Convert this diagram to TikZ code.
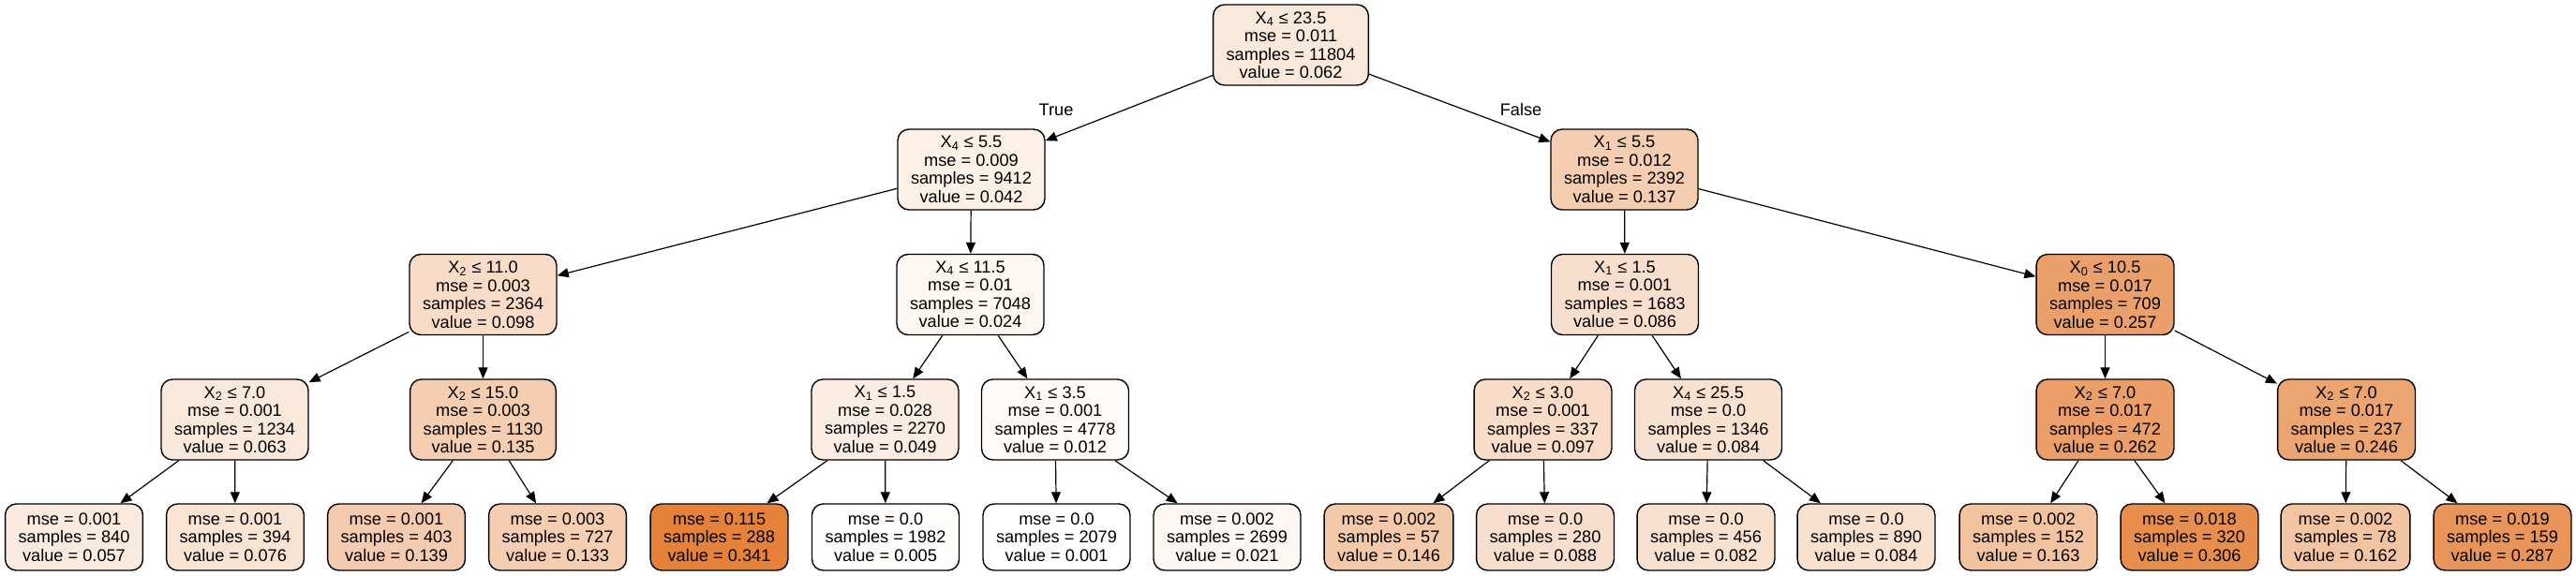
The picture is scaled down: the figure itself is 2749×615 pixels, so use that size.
\documentclass[tikz,border=0pt]{standalone}
\usepackage{fontspec}
\setmainfont{Liberation Sans}
\usetikzlibrary{arrows.meta}
\definecolor{dt}{HTML}{E58139}

\begin{document}
\begin{tikzpicture}[
    x=0.5pt, y=-0.5pt,
    split/.style={draw, line width=0.7pt, rounded corners=6pt, fill=dt!#1, align=center,
        minimum height=43pt, inner xsep=7pt, inner ysep=1pt,
        font=\fontsize{9.1}{9.75}\selectfont},
    leaf/.style={split=#1, minimum height=35.5pt},
    arrow/.style={-{Triangle[length=6pt,width=5pt]}, line width=0.6pt},
    lbl/.style={font=\fontsize{9.1}{9.75}\selectfont}
]
\useasboundingbox (0,0) rectangle (2749,615);

% Root
\node[split=18] (n0) at (1377.5,48) {X\textsubscript{4} ≤ 23.5\\mse = 0.011\\samples = 11804\\value = 0.062};

% Depth 1
\node[split=12] (n1) at (1036.5,181) {X\textsubscript{4} ≤ 5.5\\mse = 0.009\\samples = 9412\\value = 0.042};
\node[split=40] (n2) at (1733.5,181) {X\textsubscript{1} ≤ 5.5\\mse = 0.012\\samples = 2392\\value = 0.137};

% Depth 2
\node[split=28] (n3) at (515.5,314.5) {X\textsubscript{2} ≤ 11.0\\mse = 0.003\\samples = 2364\\value = 0.098};
\node[split=7] (n4) at (1035.5,314.5) {X\textsubscript{4} ≤ 11.5\\mse = 0.01\\samples = 7048\\value = 0.024};
\node[split=25] (n5) at (1734,314.5) {X\textsubscript{1} ≤ 1.5\\mse = 0.001\\samples = 1683\\value = 0.086};
\node[split=75] (n6) at (2246.5,314.5) {X\textsubscript{0} ≤ 10.5\\mse = 0.017\\samples = 709\\value = 0.257};

% Depth 3
\node[split=18] (n7) at (250.5,448) {X\textsubscript{2} ≤ 7.0\\mse = 0.001\\samples = 1234\\value = 0.063};
\node[split=39] (n8) at (515.5,448) {X\textsubscript{2} ≤ 15.0\\mse = 0.003\\samples = 1130\\value = 0.135};
\node[split=14] (n9) at (944.5,448) {X\textsubscript{1} ≤ 1.5\\mse = 0.028\\samples = 2270\\value = 0.049};
\node[split=3] (n10) at (1126,448) {X\textsubscript{1} ≤ 3.5\\mse = 0.001\\samples = 4778\\value = 0.012};
\node[split=28] (n11) at (1646.5,448) {X\textsubscript{2} ≤ 3.0\\mse = 0.001\\samples = 337\\value = 0.097};
\node[split=24] (n12) at (1823,448) {X\textsubscript{4} ≤ 25.5\\mse = 0.0\\samples = 1346\\value = 0.084};
\node[split=77] (n13) at (2246.5,448) {X\textsubscript{2} ≤ 7.0\\mse = 0.017\\samples = 472\\value = 0.262};
\node[split=72] (n14) at (2504,448) {X\textsubscript{2} ≤ 7.0\\mse = 0.017\\samples = 237\\value = 0.246};

% Leaves
\node[leaf=16] (l1) at (79,573.5) {mse = 0.001\\samples = 840\\value = 0.057};
\node[leaf=22] (l2) at (251,573.5) {mse = 0.001\\samples = 394\\value = 0.076};
\node[leaf=41] (l3) at (423,573.5) {mse = 0.001\\samples = 403\\value = 0.139};
\node[leaf=39] (l4) at (595,573.5) {mse = 0.003\\samples = 727\\value = 0.133};
\node[leaf=100] (l5) at (767.5,573.5) {mse = 0.115\\samples = 288\\value = 0.341};
\node[leaf=1] (l6) at (945,573.5) {mse = 0.0\\samples = 1982\\value = 0.005};
\node[leaf=0] (l7) at (1127.5,573.5) {mse = 0.0\\samples = 2079\\value = 0.001};
\node[leaf=6] (l8) at (1309.5,573.5) {mse = 0.002\\samples = 2699\\value = 0.021};
\node[leaf=43] (l9) at (1482,573.5) {mse = 0.002\\samples = 57\\value = 0.146};
\node[leaf=26] (l10) at (1649,573.5) {mse = 0.0\\samples = 280\\value = 0.088};
\node[leaf=24] (l11) at (1820.5,573.5) {mse = 0.0\\samples = 456\\value = 0.082};
\node[leaf=24] (l12) at (1991.5,573.5) {mse = 0.0\\samples = 890\\value = 0.084};
\node[leaf=48] (l13) at (2164.5,573.5) {mse = 0.002\\samples = 152\\value = 0.163};
\node[leaf=90] (l14) at (2336.5,573.5) {mse = 0.018\\samples = 320\\value = 0.306};
\node[leaf=47] (l15) at (2503,573.5) {mse = 0.002\\samples = 78\\value = 0.162};
\node[leaf=84] (l16) at (2670.5,573.5) {mse = 0.019\\samples = 159\\value = 0.287};

% Edges
\foreach \p/\c in {n0/n1, n0/n2, n1/n3, n1/n4, n2/n5, n2/n6,
    n3/n7, n3/n8, n4/n9, n4/n10, n5/n11, n5/n12, n6/n13, n6/n14,
    n7/l1, n7/l2, n8/l3, n8/l4, n9/l5, n9/l6, n10/l7, n10/l8,
    n11/l9, n11/l10, n12/l11, n12/l12, n13/l13, n13/l14, n14/l15, n14/l16}
    \draw[arrow] (\p) -- (\c);

% Branch labels
\node[lbl] (ltrue) at (1127,117) {True};
\node[lbl] (lfalse) at (1623,117) {False};

\end{tikzpicture}
\end{document}
